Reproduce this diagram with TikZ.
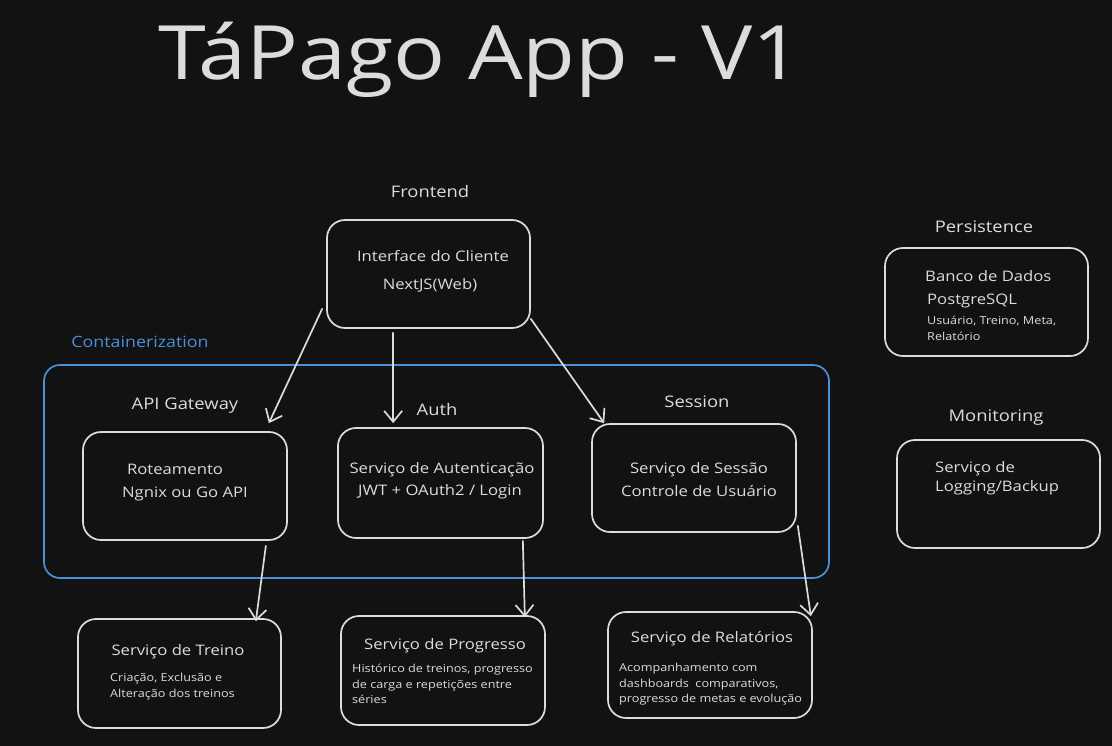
\documentclass[tikz,border=0pt]{standalone}
\usepackage{fontspec}
\setmainfont[FakeStretch=1.15]{Open Sans}
\usetikzlibrary{arrows.meta}
\definecolor{bg}{HTML}{121212}
\definecolor{fg}{HTML}{DCDCDC}
\definecolor{bluec}{HTML}{4A90D9}
\tikzset{
  box/.style={draw=fg, line width=1.7pt, rounded corners=18pt, rectangle, inner sep=0pt},
  lbl/.style={text=fg, font=\fontsize{16}{18}\selectfont, inner sep=0pt},
  txt/.style={text=fg, font=\fontsize{14.5}{17}\selectfont, inner sep=0pt},
  small/.style={text=fg, font=\fontsize{11}{15.5}\selectfont, inner sep=0pt, align=left},
  arr/.style={draw=fg, line width=1.7pt, line cap=round, -{Straight Barb[length=11pt,width=18pt,line width=1.7pt]}},
}
\begin{document}
\begin{tikzpicture}[x=1pt,y=-1pt]
\fill[bg] (0,0) rectangle (1112,746);
\useasboundingbox (0,0) rectangle (1112,746);

% title
\node[text=fg, font=\fontsize{75}{90}\selectfont, inner sep=0pt, anchor=base] (title) at (480,80) {TáPago App - V1};

% frontend
\node[lbl] (lfront) at (430,192) {Frontend};
\node[box, minimum width=203pt, minimum height=108pt] (iface) at (428.5,274) {};
\node[txt] (iface1) at (433,256) {Interface do Cliente};
\node[txt] (iface2) at (430,285) {NextJS(Web)};

% container
\node[draw=bluec, line width=1.7pt, rounded corners=16pt, minimum width=785pt, minimum height=213pt, inner sep=0pt] (cont) at (436.5,471.5) {};
\node[text=bluec, font=\fontsize{15.5}{18}\selectfont, inner sep=0pt] (lcont) at (140,342) {Containerization};

\node[lbl] (lapi) at (185,406) {API Gateway};
\node[lbl] (lauth) at (437,409) {Auth};
\node[lbl] (lsess) at (697,402) {Session};

\node[box, minimum width=204pt, minimum height=108pt] (rot) at (185,486) {};
\node[txt] (rot1) at (175,469) {Roteamento};
\node[txt] (rot2) at (185,494) {Ngnix ou Go API};

\node[box, minimum width=205pt, minimum height=110pt] (auth) at (440.5,483) {};
\node[txt] (auth1) at (442,470) {Serviço de Autenticação};
\node[txt] (auth2) at (440,492) {JWT + OAuth2 / Login};

\node[box, minimum width=204pt, minimum height=108pt] (sess) at (694,478) {};
\node[txt] (sess1) at (699,470) {Serviço de Sessão};
\node[txt] (sess2) at (699,491) {Controle de Usuário};

% persistence
\node[lbl] (lpers) at (984,227) {Persistence};
\node[box, minimum width=203pt, minimum height=108pt] (db) at (986.5,302) {};
\node[txt, anchor=west] (db1) at (925,276) {Banco de Dados};
\node[txt, anchor=west] (db2) at (927,301) {PostgreSQL};
\node[small, anchor=north west] (db3) at (927,316) {Usuário, Treino, Meta,\\Relatório};

% monitoring
\node[lbl] (lmon) at (996,418) {Monitoring};
\node[box, minimum width=203pt, minimum height=108pt] (mon) at (998.5,494) {};
\node[txt, anchor=north west, align=left, font=\fontsize{14.5}{19}\selectfont] (mon1) at (935,461) {Serviço de\\Logging/Backup};

% bottom services
\node[box, minimum width=203pt, minimum height=109pt] (treino) at (179.5,673.5) {};
\node[txt] (treino1) at (178,652) {Serviço de Treino};
\node[small, anchor=north west] (treino2) at (110,673) {Criação, Exclusão e\\Alteração dos treinos};

\node[box, minimum width=204pt, minimum height=109pt] (prog) at (443,670.5) {};
\node[txt] (prog1) at (445,646) {Serviço de Progresso};
\node[small, anchor=north west] (prog2) at (352,664) {Histórico de treinos, progresso\\de carga e repetições entre\\séries};

\node[box, minimum width=204pt, minimum height=106pt] (rel) at (710,665) {};
\node[txt] (rel1) at (712,639) {Serviço de Relatórios};
\node[small, anchor=north west] (rel2) at (619,663) {Acompanhamento com\\dashboards\ \ comparativos,\\progresso de metas e evolução};

% arrows
\draw[arr] ([xshift=-4pt,yshift=20pt]iface.south west) -- ([xshift=-19pt,yshift=8pt]rot.north east);
\draw[arr] ([xshift=67pt,yshift=-4pt]iface.south west) -- ([xshift=56pt,yshift=4pt]auth.north west);
\draw[arr] ([xshift=0pt,yshift=10pt]iface.south east) -- ([xshift=13pt,yshift=0pt]sess.north west);
\draw[arr] ([xshift=-22pt,yshift=-5pt]rot.south east) -- ([xshift=-26pt,yshift=-3pt]treino.north east);
\draw[arr] ([xshift=-21pt,yshift=-2pt]auth.south east) -- ([xshift=-21pt,yshift=-2pt]prog.north east);
\draw[arr] ([xshift=1pt,yshift=7pt]sess.south east) -- ([xshift=-2pt,yshift=-5pt]rel.north east);
\end{tikzpicture}
\end{document}
